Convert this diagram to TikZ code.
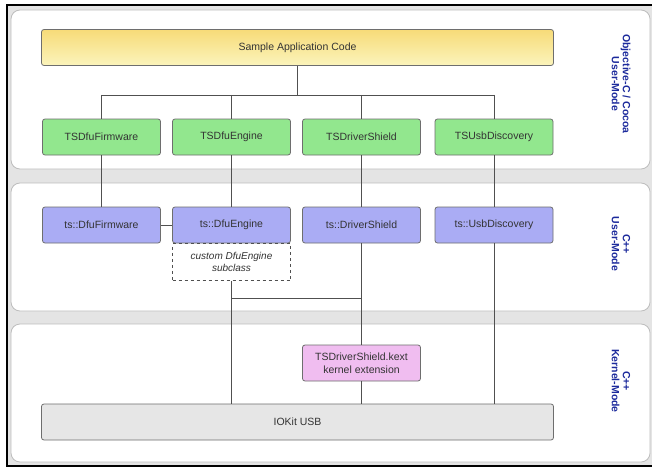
\documentclass[tikz,border=0pt]{standalone}
\usepackage{fontspec}
\setmainfont{Liberation Sans}
\definecolor{bggray}{HTML}{E4E4E4}
\definecolor{panelline}{HTML}{BDBDBD}
\definecolor{boxline}{HTML}{6E6E6E}
\definecolor{wire}{HTML}{505050}
\definecolor{txt}{HTML}{333333}
\definecolor{lbl}{HTML}{1C2A9C}
\definecolor{ytop}{HTML}{F7DB78}
\definecolor{ybot}{HTML}{FBF4BC}
\definecolor{gfill}{HTML}{92E78E}
\definecolor{bfill}{HTML}{AAACF4}
\definecolor{pfill}{HTML}{F0BDF0}
\definecolor{ifill}{HTML}{E6E6E6}
\begin{document}
\begin{tikzpicture}[x=1pt,y=-1pt,
  font=\fontsize{10.5}{12.5}\selectfont,
  box/.style={draw=boxline, line width=0.8pt, rounded corners=2.5pt,
    minimum width=118pt, minimum height=36pt, inner sep=0pt,
    align=center, text=txt},
  ybox/.style={box, top color=ytop, bottom color=ybot, minimum width=512pt},
  gbox/.style={box, fill=gfill},
  bbox/.style={box, fill=bfill},
  pbox/.style={box, fill=pfill},
  ibox/.style={box, fill=ifill, minimum width=512pt},
  subbox/.style={draw=wire, dashed, line width=0.9pt, fill=white,
    minimum width=118pt, minimum height=37pt, inner sep=0pt, align=center,
    text=txt, font=\fontsize{10}{12}\selectfont\itshape},
  panel/.style={draw=panelline, fill=white, line width=0.8pt, rounded corners=9pt},
  side/.style={text=lbl, font=\fontsize{10.5}{11}\selectfont\bfseries,
    rotate=-90, align=center},
  wire/.style={draw=wire, line width=0.9pt}]
\useasboundingbox (0,0) rectangle (652,468);
\fill[white] (0,0) rectangle (652,468);
\fill[bggray] (7,5) rectangle (652,466);
\draw[black, line width=2pt] (652,5) -- (7,5) -- (7,466) -- (652,466);
% panels
\draw[panel] (11,10) rectangle (650,169);
\draw[panel] (11,183) rectangle (650,311);
\draw[panel] (11,324) rectangle (650,462);
% side labels
\node[side] (l1) at (621,84) {Objective-C / Cocoa\\User-Mode};
\node[side] (l2) at (621,244) {C++\\User-Mode};
\node[side] (l3) at (621,381) {C++\\Kernel-Mode};
% boxes
\node[ybox] (app) at (297.5,47.5) {Sample Application Code};
\node[gbox] (gfw)  at (101.5,137) {TSDfuFirmware};
\node[gbox] (geng) at (231.5,137) {TSDfuEngine};
\node[gbox] (gdrv) at (361.5,137) {TSDriverShield};
\node[gbox] (gusb) at (494,137) {TSUsbDiscovery};
\node[bbox] (bfw)  at (101.5,225) {ts::DfuFirmware};
\node[bbox] (beng) at (231.5,225) {ts::DfuEngine};
\node[bbox] (bdrv) at (361.5,225) {ts::DriverShield};
\node[bbox] (busb) at (494,225) {ts::UsbDiscovery};
\node[subbox, anchor=north] (sub) at (beng.south) {custom DfuEngine\\subclass};
\node[pbox] (kext) at (361.5,363) {TSDriverShield.kext\\kernel extension};
\node[ibox] (iokit) at (297.5,422) {IOKit USB};
\coordinate (bus) at (297.5,95);
\coordinate (join) at (297.5,298);
% connectors
\begin{scope}[on background layer/.try]
\end{scope}
\draw[wire] (app.south) -- (app.south |- bus);
\draw[wire] (gfw.north |- bus) -- (gusb.north |- bus);
\draw[wire] (gfw.north |- bus) -- (gfw.north);
\draw[wire] (geng.north |- bus) -- (geng.north);
\draw[wire] (gdrv.north |- bus) -- (gdrv.north);
\draw[wire] (gusb.north |- bus) -- (gusb.north);
\draw[wire] (gfw.south) -- (bfw.north);
\draw[wire] (geng.south) -- (beng.north);
\draw[wire] (gdrv.south) -- (bdrv.north);
\draw[wire] (gusb.south) -- (busb.north);
\draw[wire] (bfw.east) -- (beng.west);
\draw[wire] (sub.south) -- (iokit.north -| sub.south);
\draw[wire] (sub.south |- join) -- (bdrv.south |- join);
\draw[wire] (bdrv.south) -- (kext.north);
\draw[wire] (kext.south) -- (iokit.north -| kext.south);
\draw[wire] (busb.south) -- (iokit.north -| busb.south);
\end{tikzpicture}
\end{document}
